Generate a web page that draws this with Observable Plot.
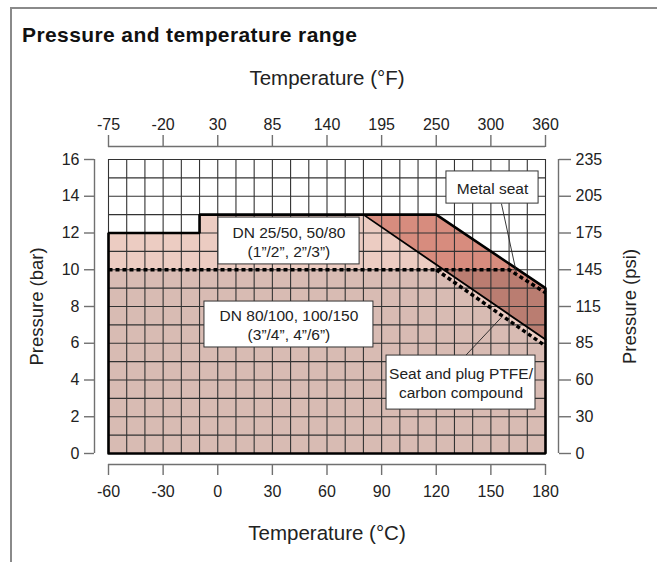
<!DOCTYPE html>
<html>
<head>
<meta charset="utf-8">
<script src="https://cdn.jsdelivr.net/npm/d3@7"></script>
<script src="https://cdn.jsdelivr.net/npm/@observablehq/plot@0.6"></script>
<style>
  html, body { margin: 0; padding: 0; background: #fff; }
  body { width: 657px; height: 562px; position: relative; overflow: hidden; font-family: "Liberation Sans", Arial, sans-serif; }
  #frame { position: absolute; left: 10px; top: 7px; right: -5px; bottom: -5px; border-left: 2px solid #8a8a8a; border-top: 2px solid #8a8a8a; }
  #title { position: absolute; left: 22px; top: 24px; font-weight: bold; font-size: 21px; line-height: 21px; letter-spacing: 0.4px; color: #111; white-space: nowrap; }
  #chart { position: absolute; left: 0; top: 0; }
</style>
</head>
<body>
<div id="frame"></div>
<div id="title">Pressure and temperature range</div>
<div id="chart"></div>
<script>
// ---- axis ticks & labels ----
const cTicks = [-60, -30, 0, 30, 60, 90, 120, 150, 180];
const cLabels = ["-60", "-30", "0", "30", "60", "90", "120", "150", "180"];
const fLabels = ["-75", "-20", "30", "85", "140", "195", "250", "300", "360"];
const barTicks = [0, 2, 4, 6, 8, 10, 12, 14, 16];
const psiLabels = ["0", "30", "60", "85", "115", "145", "175", "205", "235"];

// ---- limit lines, [°C, bar] ----
const envelope = [[-60, 0], [-60, 12], [-10, 12], [-10, 13], [120, 13], [180, 9], [180, 0], [-60, 0]];
const dn25PtfeTop = [[-60, 12], [-10, 12], [-10, 13], [80, 13], [180, 6.2]];
const ptfeSeatLine = [[80, 13], [180, 6.2]];
const metalTop = [[80, 13], [120, 13], [180, 9]];
const dn80MetalTop = [[-60, 10], [160, 10], [180, 8.75]];
const dn80PtfeTop = [[-60, 10], [120, 10], [180, 5.85]];
const dn80PtfeDiag = [[120, 10], [180, 5.85]];

// ---- annotations ----
const boxes = [
  {x1: 0.4, x2: 77.9, y1: 10.29, y2: 12.84},
  {x1: -7.3, x2: 85.5, y1: 5.77, y2: 8.27},
  {x1: 125.6, x2: 176.2, y1: 13.6, y2: 15.35},
  {x1: 92.7, x2: 174.5, y1: 2.39, y2: 5.33}
];
const notes = [
  {x: 39.1, y: 11.55, text: "DN 25/50, 50/80\n(1”/2”, 2”/3”)"},
  {x: 39.1, y: 7.0, text: "DN 80/100, 100/150\n(3”/4”, 4”/6”)"},
  {x: 150.9, y: 14.47, text: "Metal seat"},
  {x: 133.6, y: 3.86, text: "Seat and plug PTFE/\ncarbon compound"}
];
const leaders = [
  {x1: 155.8, y1: 13.6, x2: 164.1, y2: 9.8},
  {x1: 136.1, y1: 5.33, x2: 155.7, y2: 7.4}
];

// interpolate a polyline at t
function at(line, t) {
  for (let i = 0; i < line.length - 1; i++) {
    const [t0, p0] = line[i], [t1, p1] = line[i + 1];
    if (t >= t0 && t <= t1 && t1 > t0) return p0 + (p1 - p0) * (t - t0) / (t1 - t0);
  }
  return line[line.length - 1][1];
}
const crossT = ptfeSeatLine[0][0] + (ptfeSeatLine[0][1] - 10) * (ptfeSeatLine[1][0] - ptfeSeatLine[0][0]) / (ptfeSeatLine[0][1] - ptfeSeatLine[1][1]);

const lightArea = dn25PtfeTop.map(([t, p]) => ({t, lo: 0, hi: p}));
const metalArea = [80, 120, 180].map(t => ({t, lo: at(ptfeSeatLine, t), hi: at(metalTop, t)}));
const grayArea = dn80PtfeTop.map(([t, p]) => ({t, lo: 0, hi: p}));
const brownArea = [crossT, 160, 180].map(t => ({t, lo: at(ptfeSeatLine, t), hi: at(dn80MetalTop, t)}));

const X = d => d[0], Y = d => d[1];
const axisGray = "#707070";
const textCol = "#222";

const chart = Plot.plot({
  width: 657,
  height: 562,
  marginTop: 159,
  marginBottom: 109,
  marginLeft: 108,
  marginRight: 112,
  x: {domain: [-60, 180]},
  y: {domain: [0, 16]},
  style: {fontFamily: "'Liberation Sans', Arial, sans-serif", fontSize: "16px", color: textCol, background: "transparent", overflow: "visible"},
  marks: [
    Plot.areaY(lightArea, {x: "t", y1: "lo", y2: "hi", fill: "#ecccc2"}),
    Plot.areaY(metalArea, {x: "t", y1: "lo", y2: "hi", fill: "#d78c7e"}),
    Plot.areaY(grayArea, {x: "t", y1: "lo", y2: "hi", fill: "#d8bbb3"}),
    Plot.areaY(brownArea, {x: "t", y1: "lo", y2: "hi", fill: "#ba7d71"}),
    // grid
    Plot.ruleX(d3.range(-60, 181, 10), {y1: 0, y2: 16, stroke: "#333", strokeWidth: 1.1}),
    Plot.ruleY(d3.range(0, 17, 1), {x1: -60, x2: 180, stroke: "#333", strokeWidth: 1.1}),
    // limit lines
    Plot.line(envelope, {x: X, y: Y, stroke: "#000", strokeWidth: 2.6, strokeLinejoin: "miter"}),
    Plot.line(ptfeSeatLine, {x: X, y: Y, stroke: "#000", strokeWidth: 1.8}),
    Plot.line(dn80MetalTop, {x: X, y: Y, stroke: "#000", strokeWidth: 3.5, strokeDasharray: "4,3", strokeLinecap: "butt"}),
    Plot.line(dn80PtfeDiag, {x: X, y: Y, stroke: "#000", strokeWidth: 3.5, strokeDasharray: "4,3", strokeLinecap: "butt"}),
    // leaders
    Plot.link(leaders, {x1: "x1", y1: "y1", x2: "x2", y2: "y2", stroke: "#222", strokeWidth: 0.9}),
    // boxes & notes
    Plot.rect(boxes, {x1: "x1", x2: "x2", y1: "y1", y2: "y2", fill: "#fff", stroke: "#333", strokeWidth: 1}),
    Plot.text(notes, {x: "x", y: "y", text: "text", fontSize: 15.5, lineHeight: 1.22, fill: textCol}),
    // axis lines
    Plot.ruleY([0], {x1: -60, x2: 180, dy: 11, stroke: axisGray, strokeWidth: 1.4}),
    Plot.ruleY([16], {x1: -60, x2: 180, dy: -13, stroke: axisGray, strokeWidth: 1.4}),
    Plot.ruleX([-60], {y1: 0, y2: 16, dx: -14, stroke: axisGray, strokeWidth: 1.4}),
    Plot.ruleX([180], {y1: 0, y2: 16, dx: 13, stroke: axisGray, strokeWidth: 1.4}),
    // axes
    Plot.axisX(cTicks, {anchor: "bottom", dy: 11, tickSize: 11, tickPadding: 10, label: null, tickFormat: d => cLabels[cTicks.indexOf(d)], stroke: axisGray, strokeWidth: 1.4, fill: textCol, fontSize: 16}),
    Plot.axisX(cTicks, {anchor: "top", dy: -13, tickSize: 12, tickPadding: 5, label: null, tickFormat: d => fLabels[cTicks.indexOf(d)], stroke: axisGray, strokeWidth: 1.4, fill: textCol, fontSize: 16}),
    Plot.axisY(barTicks, {anchor: "left", dx: -14, tickSize: 10, tickPadding: 5, label: null, stroke: axisGray, strokeWidth: 1.4, fill: textCol, fontSize: 16}),
    Plot.axisY(barTicks, {anchor: "right", dx: 13, tickSize: 12, tickPadding: 5, label: null, tickFormat: d => psiLabels[barTicks.indexOf(d)], stroke: axisGray, strokeWidth: 1.4, fill: textCol, fontSize: 16}),
    // axis titles
    Plot.text(["Temperature (°C)"], {frameAnchor: "bottom", dy: 80, textAnchor: "middle", lineAnchor: "middle", fontSize: 20.5, fill: textCol}),
    Plot.text(["Temperature (°F)"], {frameAnchor: "top", dy: -81, textAnchor: "middle", lineAnchor: "middle", fontSize: 20.5, fill: textCol}),
    Plot.text(["Pressure (bar)"], {frameAnchor: "left", dx: -71, rotate: -90, textAnchor: "middle", lineAnchor: "middle", fontSize: 18.5, fill: textCol}),
    Plot.text(["Pressure (psi)"], {frameAnchor: "right", dx: 85, rotate: -90, textAnchor: "middle", lineAnchor: "middle", fontSize: 18.5, fill: textCol})
  ]
});
document.getElementById("chart").appendChild(chart);
</script>
</body>
</html>
